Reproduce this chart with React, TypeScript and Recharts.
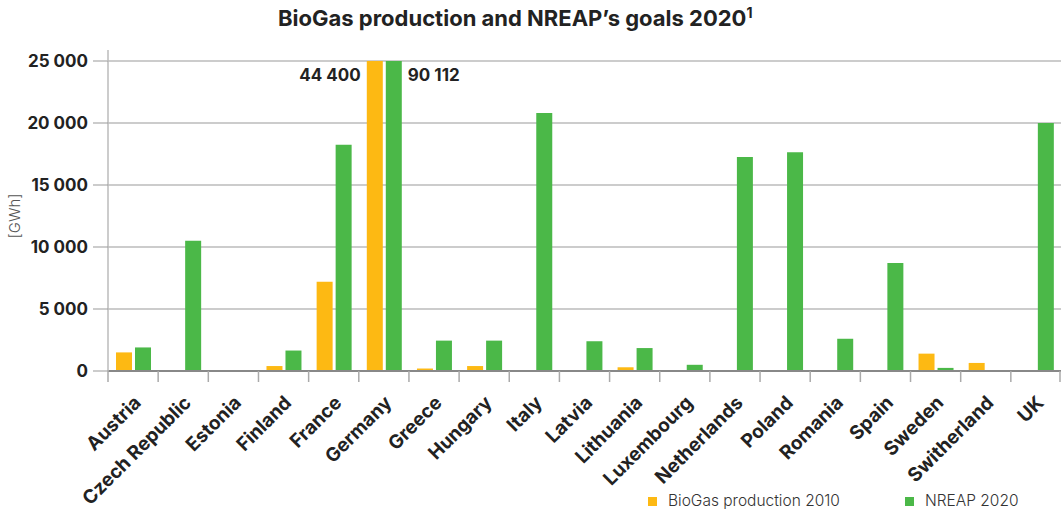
import React from 'react';
import { BarChart, Bar, XAxis, YAxis, CartesianGrid, Legend } from 'recharts';

const countries = ['Austria', 'Czech Republic', 'Estonia', 'Finland', 'France', 'Germany', 'Greece', 'Hungary', 'Italy', 'Latvia', 'Lithuania', 'Luxembourg', 'Netherlands', 'Poland', 'Romania', 'Spain', 'Sweden', 'Switherland', 'UK'];
const biogas2010 = [1500, 0, 0, 400, 7200, 44400, 200, 400, 0, 0, 300, 0, 0, 0, 0, 0, 1400, 650, 0];
const nreap2020 = [1900, 10500, 0, 1650, 18250, 90112, 2450, 2450, 20800, 2400, 1850, 500, 17250, 17650, 2600, 8700, 250, 0, 20000];
const yTicks = [0, 5000, 10000, 15000, 20000, 25000];
const Y_MAX = 25000;

const seriesNames = { biogas: 'BioGas production 2010', nreap: 'NREAP 2020' };
const ORANGE = '#FDB913';
const GREEN = '#4BB848';
const FONT = 'Inter, "Liberation Sans", Arial, sans-serif';
const PLOT_TOP = 61;
const Y_AXIS_W = 108;

const data = countries.map((c, i) => ({ country: c, biogas: biogas2010[i], nreap: nreap2020[i] }));

const fmt = (n: number) => String(n).replace(/\B(?=(\d{3})+(?!\d))/g, ' ');

const XTick = (props: any) => {
  const { x, y, payload, index } = props;
  const half = (1061 - Y_AXIS_W) / countries.length / 2;
  const last = index === countries.length - 1;
  return (
    <g>
      <line x1={x - half} x2={x - half} y1={y} y2={y + 11} stroke="#aaa" strokeWidth={1.5} />
      {last && <line x1={x + half - 1} x2={x + half - 1} y1={y} y2={y + 11} stroke="#aaa" strokeWidth={1.5} />}
      <text
        transform={`translate(${x + 9}, ${y + 33}) rotate(-45)`}
        textAnchor="end"
        fontFamily={FONT}
        fontWeight="bold"
        fontSize={19}
        fill="#222"
      >
        {payload.value}
      </text>
    </g>
  );
};

const YTick = (props: any) => {
  const { x, y, payload } = props;
  const axisX = x + 20;
  return (
    <g>
      {payload.value === Y_MAX && <line x1={axisX} x2={axisX} y1={y - 11} y2={y} stroke="#bbb" strokeWidth={1.5} />}
      <text x={x} y={y} dy="0.355em" textAnchor="end" fontFamily={FONT} fontWeight="bold" fontSize={17} fill="#222">
        {fmt(payload.value)}
      </text>
    </g>
  );
};

const overflowLabel = (side: 'left' | 'right') => (props: any) => {
  const { x, y, width, value } = props;
  if (value <= Y_MAX) return null;
  const top = Math.max(y, PLOT_TOP);
  return (
    <text
      x={side === 'left' ? x - 6 : x + width + 6}
      y={top + 20}
      textAnchor={side === 'left' ? 'end' : 'start'}
      fontFamily={FONT}
      fontWeight="bold"
      fontSize={17}
      fill="#222"
    >
      {fmt(value)}
    </text>
  );
};

const GwhLabel = (props: any) => {
  const { viewBox } = props;
  const cy = viewBox.y + viewBox.height / 2;
  return (
    <text
      x={14}
      y={cy}
      transform={`rotate(-90, 14, ${cy})`}
      textAnchor="middle"
      dominantBaseline="central"
      fontFamily={FONT}
      fontSize={15}
      fontWeight={300}
      fill="#555"
    >
      [GWh]
    </text>
  );
};

const LegendContent = () => (
  <div style={{ position: 'relative', height: 28, width: 1061, fontFamily: FONT, fontSize: 15.5, fontWeight: 300, color: '#333' }}>
    <div style={{ position: 'absolute', left: 648, top: 7, width: 9, height: 9, background: ORANGE }} />
    <div style={{ position: 'absolute', left: 668, top: 2, lineHeight: '18px' }}>{seriesNames.biogas}</div>
    <div style={{ position: 'absolute', left: 905, top: 7, width: 9, height: 9, background: GREEN }} />
    <div style={{ position: 'absolute', left: 925, top: 2, lineHeight: '18px' }}>{seriesNames.nreap}</div>
  </div>
);

export default function App() {
  return (
    <div style={{ position: 'absolute', left: 0, top: 0, width: 1061, height: 518, background: '#fff' }}>
      <div
        style={{
          position: 'absolute',
          left: 278,
          top: 4,
          fontFamily: FONT,
          fontWeight: 'bold',
          fontSize: 22,
          color: '#222',
          whiteSpace: 'nowrap',
          zIndex: 2,
        }}
      >
        BioGas production and NREAP’s goals 2020<sup style={{ fontSize: 14 }}>1</sup>
      </div>
      <BarChart
        width={1061}
        height={518}
        data={data}
        margin={{ top: PLOT_TOP, right: 0, left: 0, bottom: 0 }}
        barSize={16}
        barGap={3}
      >
        <CartesianGrid vertical={false} stroke="#999" strokeWidth={1} />
        <XAxis
          dataKey="country"
          interval={0}
          height={119}
          tickSize={0}
          tickMargin={0}
          tickLine={false}
          axisLine={{ stroke: '#888', strokeWidth: 2 }}
          tick={<XTick />}
        />
        <YAxis
          width={Y_AXIS_W}
          domain={[0, Y_MAX]}
          ticks={yTicks}
          allowDataOverflow
          tickSize={15}
          tickMargin={5}
          tickLine={{ stroke: '#999' }}
          axisLine={{ stroke: '#bbb', strokeWidth: 1.5 }}
          tick={<YTick />}
          label={{ content: GwhLabel }}
        />
        <Legend verticalAlign="bottom" height={28} wrapperStyle={{ left: 0, right: 'auto', width: 1061, bottom: 0 }} content={<LegendContent />} />
        <Bar dataKey="biogas" name={seriesNames.biogas} fill={ORANGE} isAnimationActive={false} label={overflowLabel('left')} />
        <Bar dataKey="nreap" name={seriesNames.nreap} fill={GREEN} isAnimationActive={false} label={overflowLabel('right')} />
      </BarChart>
    </div>
  );
}
